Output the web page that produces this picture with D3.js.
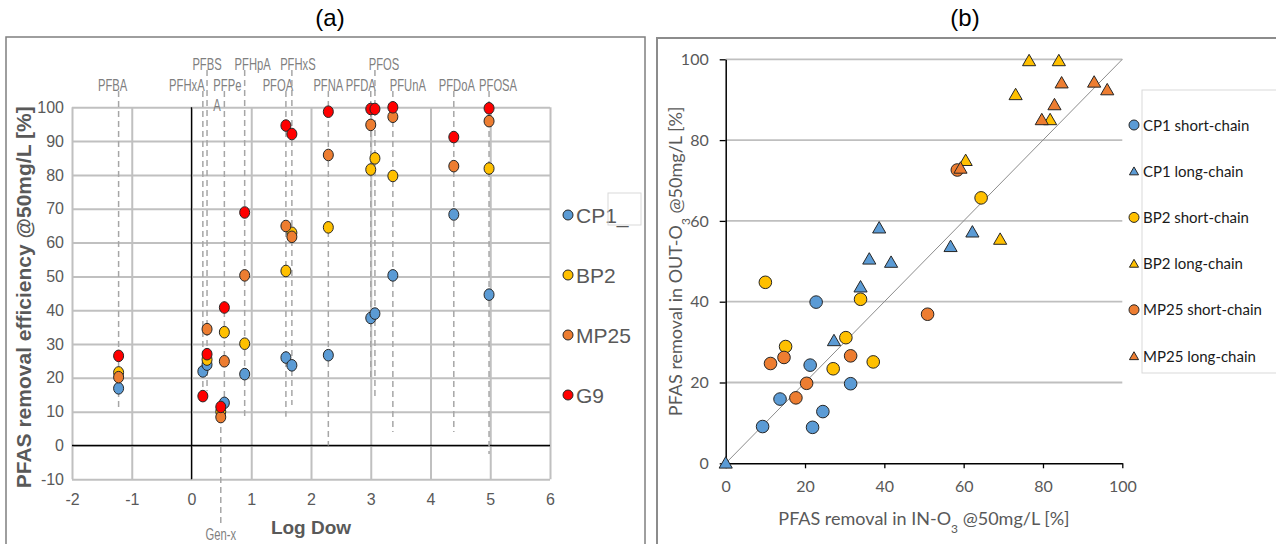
<!DOCTYPE html>
<html>
<head>
<meta charset="utf-8">
<script src="https://cdn.jsdelivr.net/npm/d3@7"></script>
<style>
  body { margin: 0; background: #fff; }
  svg { display: block; }
</style>
</head>
<body>
<svg id="chart" width="1276" height="544"></svg>
<script>
// ---------- panel (a): removal vs Log Dow ----------
const compounds = ["PFBA", "PFHxA", "PFBS", "PFPeA", "Gen-x", "PFHpA", "PFOA", "PFHxS", "PFNA", "PFDA", "PFOS", "PFUnA", "PFDoA", "PFOSA"];
const logDow    = [-1.22, 0.19, 0.26, 0.55, 0.49, 0.89, 1.58, 1.68, 2.29, 3.0, 3.07, 3.37, 4.39, 4.98];
// 0 = upper label row, 1 = lower label row, 2 = below the axis
const labelRow  = [1, 1, 0, 1, 2, 0, 1, 0, 1, 1, 0, 1, 1, 1];
// where each dashed drop line stops, in % removal
const lineEnd   = [11, 16, 16, 12, -23.5, 8.5, 8.5, 12, 0, 20, 14, 4, 4, -2.5];

const cp1  = [16.9, 21.9, 23.9, 12.6, null, 21.1, 26.0, 23.7, 26.7, 37.7, 39.0, 50.3, 68.3, 44.6];
const bp2  = [21.6, null, 25.4, 33.5, 10.0, 30.1, 51.6, 62.9, 64.5, 81.6, 84.9, 79.7, null, 81.9];
const mp25 = [20.2, null, 34.4, 24.9, 8.4, 50.3, 64.9, 61.7, 85.9, 94.8, null, 97.2, 82.6, 95.9];
const g9   = [26.5, 14.6, 27.0, 40.8, 11.4, 68.9, 94.6, 92.1, 98.7, 99.5, 99.5, 100, 91.2, 99.7];

const seriesA = ["CP1", "BP2", "MP25", "G9"];
const xTicksA = [-2, -1, 0, 1, 2, 3, 4, 5, 6];
const yTicksA = [-10, 0, 10, 20, 30, 40, 50, 60, 70, 80, 90, 100];

// ---------- panel (b): IN-O3 vs OUT-O3 ----------
const seriesB = ["CP1 short-chain", "CP1 long-chain", "BP2 short-chain", "BP2 long-chain", "MP25 short-chain", "MP25 long-chain"];
const cp1ShortIn   = [22.8, 21.3, 31.5, 13.7, 24.5, 9.3, 21.9];
const cp1ShortOut  = [39.9, 24.3, 19.7, 15.9, 12.8, 9.1, 8.9];
const cp1LongIn    = [34.0, 27.3, 0, 38.7, 36.2, 41.7, 56.7, 62.2];
const cp1LongOut   = [43.6, 30.3, 0, 58.2, 50.5, 49.7, 53.6, 57.2];
const bp2ShortIn   = [10.0, 34.0, 30.3, 15.1, 37.2, 27.1, 64.4];
const bp2ShortOut  = [44.8, 40.6, 31.1, 28.9, 25.1, 23.4, 65.7];
const bp2LongIn    = [60.5, 76.5, 84.0, 73.1, 81.8, 69.2];
const bp2LongOut   = [74.9, 99.6, 99.6, 91.2, 85.0, 55.4];
const mp25ShortIn  = [50.9, 14.7, 11.3, 31.5, 20.4, 17.7, 58.4];
const mp25ShortOut = [36.9, 26.2, 24.7, 26.6, 19.8, 16.2, 72.6];
const mp25LongIn   = [59.2, 84.7, 92.9, 96.2, 82.9, 79.7];
const mp25LongOut  = [73.0, 94.1, 94.3, 92.4, 88.7, 85.0];
const ticksB = [0, 20, 40, 60, 80, 100];

const colors = { CP1: "#5b9bd5", BP2: "#ffc000", MP25: "#ed7d31", G9: "#ff0000" };
const grey = "#595959";
const narrow = "'Liberation Sans Narrow', 'Liberation Sans', Arial, sans-serif";
const sans = "'Liberation Sans', Arial, sans-serif";
const lato = "Lato, 'Open Sans', sans-serif";

const svg = d3.select("#chart");
svg.append("rect").attr("width", 1276).attr("height", 544).attr("fill", "#fff");

// panel frames
svg.append("rect").attr("x", 6).attr("y", 37).attr("width", 639).attr("height", 530)
  .attr("fill", "none").attr("stroke", "#7f7f7f").attr("stroke-width", 1.5);
svg.append("rect").attr("x", 657).attr("y", 38).attr("width", 640).attr("height", 530)
  .attr("fill", "none").attr("stroke", "#8c8c8c").attr("stroke-width", 2);

svg.append("text").attr("x", 330).attr("y", 26).attr("text-anchor", "middle")
  .style("font", `24px ${sans}`).attr("fill", "#000").text("(a)");
svg.append("text").attr("x", 965).attr("y", 26).attr("text-anchor", "middle")
  .style("font", `24px ${sans}`).attr("fill", "#000").text("(b)");

// ================= panel (a) =================
const xA = d3.scaleLinear().domain([-2, 6]).range([72, 550]);
const yA = d3.scaleLinear().domain([-10, 100]).range([479.3, 107.3]);
const gA = svg.append("g");

const xAxisA = gA.append("g")
  .attr("transform", `translate(0,${yA(-10)})`)
  .call(d3.axisBottom(xA).tickValues(xTicksA).tickSize(-(yA(-10) - yA(100))).tickPadding(14).tickFormat(d3.format("d")));
const yAxisA = gA.append("g")
  .attr("transform", `translate(${xA(-2)},0)`)
  .call(d3.axisLeft(yA).tickValues(yTicksA).tickSize(-(xA(6) - xA(-2))).tickPadding(8).tickFormat(d3.format("d")));

[xAxisA, yAxisA].forEach(ax => {
  ax.select(".domain").remove();
  ax.selectAll(".tick line").attr("stroke", "#c0c0c0").attr("stroke-width", 2);
  ax.selectAll(".tick text").attr("fill", grey).style("font", `16px ${narrow}`);
});
xAxisA.selectAll(".tick text").text(d => d < 0 ? "-" + Math.abs(d) : d);
yAxisA.selectAll(".tick text").text(d => d < 0 ? "-" + Math.abs(d) : d);

// zero lines
gA.append("line").attr("x1", xA(0)).attr("x2", xA(0)).attr("y1", yA(-10)).attr("y2", yA(100))
  .attr("stroke", "#000").attr("stroke-width", 1.3);
gA.append("line").attr("x1", xA(-2)).attr("x2", xA(6)).attr("y1", yA(0)).attr("y2", yA(0))
  .attr("stroke", "#000").attr("stroke-width", 1.3);

// compound drop lines and labels
const rowTop = [70, 91, null];
const labelBase = [70, 91, 540];
// label nudges relative to the drop line, in px
const labelDx = { PFBA: -6, PFHxA: -16, PFBS: 0, PFPeA: -11, "Gen-x": 0, PFHpA: 8, PFOA: -8, PFHxS: 6, PFNA: 0, PFDA: -10, PFOS: 9, PFUnA: 15, PFDoA: 3, PFOSA: 9 };

compounds.forEach((name, i) => {
  const x = xA(logDow[i]);
  const row = labelRow[i];
  const y1 = row === 2 ? yA(g9[i]) : rowTop[row];
  gA.append("line")
    .attr("x1", x).attr("x2", x)
    .attr("y1", y1).attr("y2", yA(lineEnd[i]))
    .attr("stroke", "#a6a6a6").attr("stroke-width", 1.5)
    .attr("stroke-dasharray", "6,4");

  const lg = gA.append("g").attr("transform", `translate(${x + labelDx[name]},${labelBase[row]})`);
  const t = lg.append("text")
    .attr("transform", "scale(0.66,1)")
    .attr("fill", "#7f7f7f")
    .style("font", `17px ${narrow}`);
  if (name === "PFPeA") {
    t.attr("text-anchor", "start");
    t.append("tspan").attr("x", 0).attr("y", 0).text("PFPe");
    t.append("tspan").attr("x", 0).attr("y", 20).text("A");
  } else {
    t.attr("text-anchor", "middle").text(name);
  }
});

// points, drawn CP1 -> G9 so red ends up on top
const valuesA = { CP1: cp1, BP2: bp2, MP25: mp25, G9: g9 };
seriesA.forEach(s => {
  const pts = compounds.map((c, i) => ({ x: logDow[i], y: valuesA[s][i] })).filter(d => d.y != null);
  gA.append("g").selectAll("ellipse").data(pts).join("ellipse")
    .attr("cx", d => xA(d.x)).attr("cy", d => yA(d.y))
    .attr("rx", 5).attr("ry", 5.8)
    .attr("fill", colors[s]).attr("stroke", "#262626").attr("stroke-width", 1);
});

// legend (a)
const legendYA = d3.scalePoint().domain(seriesA).range([215, 395]);
seriesA.forEach(s => {
  gA.append("circle").attr("cx", 568).attr("cy", legendYA(s)).attr("r", 5)
    .attr("fill", colors[s]).attr("stroke", "#262626").attr("stroke-width", 1);
  gA.append("text").attr("x", 576).attr("y", legendYA(s) + 7.5)
    .attr("fill", grey).style("font", `21px ${narrow}`)
    .text(s === "CP1" ? "CP1_" : s);
});
gA.append("rect").attr("x", 608).attr("y", 193).attr("width", 33).attr("height", 32)
  .attr("fill", "none").attr("stroke", "#d9d9d9").attr("stroke-width", 1);

// axis titles (a)
gA.append("text")
  .attr("transform", `translate(31,${(yA(-10) + yA(100)) / 2 + 4}) rotate(-90)`)
  .attr("text-anchor", "middle").attr("fill", grey)
  .style("font", `bold 21px ${sans}`)
  .text("PFAS removal efficiency @50mg/L [%]");
gA.append("text").attr("x", 311).attr("y", 534).attr("text-anchor", "middle")
  .attr("fill", grey).style("font", `bold 19px ${sans}`).text("Log Dow");

// ================= panel (b) =================
const xB = d3.scaleLinear().domain([0, 100]).range([725.7, 1122.3]);
const yB = d3.scaleLinear().domain([0, 100]).range([463.3, 59.3]);
const gB = svg.append("g");

// horizontal gridlines
gB.append("g").selectAll("line").data(ticksB.filter(d => d > 0)).join("line")
  .attr("x1", xB(0)).attr("x2", xB(100))
  .attr("y1", d => yB(d)).attr("y2", d => yB(d))
  .attr("stroke", "#bfbfbf").attr("stroke-width", 1.8);

// 1:1 line
gB.append("line")
  .attr("x1", xB(0)).attr("y1", yB(0)).attr("x2", xB(100)).attr("y2", yB(100))
  .attr("stroke", "#8c8c8c").attr("stroke-width", 1);

const xAxisB = gB.append("g").attr("transform", `translate(0,${yB(0)})`)
  .call(d3.axisBottom(xB).tickValues(ticksB).tickSize(5).tickSizeOuter(0).tickPadding(12));
const yAxisB = gB.append("g").attr("transform", `translate(${xB(0)},0)`)
  .call(d3.axisLeft(yB).tickValues(ticksB).tickSize(6).tickSizeOuter(0).tickPadding(11));
[xAxisB, yAxisB].forEach(ax => {
  ax.select(".domain").attr("stroke", "#000").attr("stroke-width", 1.5);
  ax.selectAll(".tick line").attr("stroke", "#000").attr("stroke-width", 1.3);
  ax.selectAll(".tick text").attr("fill", grey).style("font", `16px ${lato}`);
});

// markers
const triangle = d3.symbol().type(d3.symbolTriangle);
const pointsB = [
  { name: seriesB[0], color: colors.CP1,  shape: "circle",   xs: cp1ShortIn,  ys: cp1ShortOut },
  { name: seriesB[1], color: colors.CP1,  shape: "triangle", xs: cp1LongIn,   ys: cp1LongOut },
  { name: seriesB[2], color: colors.BP2,  shape: "circle",   xs: bp2ShortIn,  ys: bp2ShortOut },
  { name: seriesB[3], color: colors.BP2,  shape: "triangle", xs: bp2LongIn,   ys: bp2LongOut },
  { name: seriesB[4], color: colors.MP25, shape: "circle",   xs: mp25ShortIn, ys: mp25ShortOut },
  { name: seriesB[5], color: colors.MP25, shape: "triangle", xs: mp25LongIn,  ys: mp25LongOut }
];

pointsB.forEach(s => {
  const pts = s.xs.map((x, i) => ({ x, y: s.ys[i] }));
  const g = gB.append("g");
  if (s.shape === "circle") {
    g.selectAll("circle").data(pts).join("circle")
      .attr("cx", d => xB(d.x)).attr("cy", d => yB(d.y)).attr("r", 6.3)
      .attr("fill", s.color).attr("stroke", "#262626").attr("stroke-width", 1);
  } else {
    g.selectAll("path").data(pts).join("path")
      .attr("d", triangle.size(75))
      .attr("transform", d => `translate(${xB(d.x)},${yB(d.y) + 1})`)
      .attr("fill", s.color).attr("stroke", "#262626").attr("stroke-width", 1);
  }
});

// legend (b)
gB.append("rect").attr("x", 1142).attr("y", 90).attr("width", 160).attr("height", 283)
  .attr("fill", "none").attr("stroke", "#d9d9d9").attr("stroke-width", 1);
const legendYB = d3.scalePoint().domain(seriesB).range([125, 356]);
pointsB.forEach(s => {
  const y = legendYB(s.name);
  if (s.shape === "circle") {
    gB.append("circle").attr("cx", 1134).attr("cy", y).attr("r", 5)
      .attr("fill", s.color).attr("stroke", "#262626").attr("stroke-width", 1);
  } else {
    gB.append("path").attr("d", d3.symbol().type(d3.symbolTriangle).size(36)())
      .attr("transform", `translate(1134,${y + 1})`)
      .attr("fill", s.color).attr("stroke", "#262626").attr("stroke-width", 1);
  }
  gB.append("text").attr("x", 1143).attr("y", y + 5.5)
    .attr("fill", "#1a1a1a").style("font", `15px ${lato}`).text(s.name);
});

// axis titles (b)
const xtB = gB.append("text").attr("x", (xB(0) + xB(100)) / 2).attr("y", 525)
  .attr("text-anchor", "middle").attr("fill", grey).style("font", `18px ${lato}`);
xtB.append("tspan").text("PFAS removal in IN-O");
xtB.append("tspan").attr("baseline-shift", "sub").style("font-size", "12px").text("3");
xtB.append("tspan").text(" @50mg/L [%]");

const ytB = gB.append("text")
  .attr("transform", `translate(682,${(yB(0) + yB(100)) / 2}) rotate(-90)`)
  .attr("text-anchor", "middle").attr("fill", grey).style("font", `18px ${lato}`);
ytB.append("tspan").text("PFAS removal in OUT-O");
ytB.append("tspan").attr("baseline-shift", "sub").style("font-size", "12px").text("3");
ytB.append("tspan").text(" @50mg/L [%]");
</script>
</body>
</html>
